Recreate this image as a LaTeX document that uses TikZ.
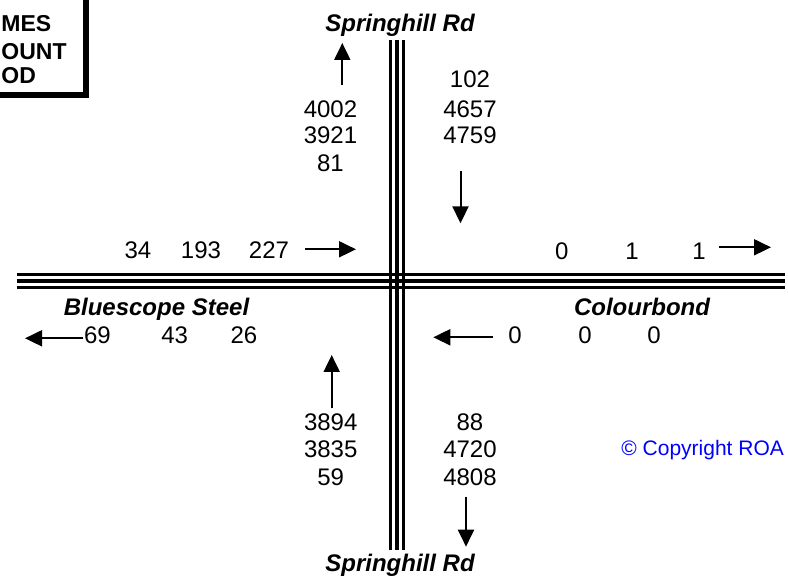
\documentclass[tikz,border=0pt]{standalone}
\usepackage{fontspec}
\setmainfont{Liberation Sans}
\usetikzlibrary{arrows.meta}
\definecolor{copyblue}{RGB}{0,0,255}

\tikzset{
  num/.style={font=\fontsize{12}{14}\selectfont, anchor=base, inner sep=0pt},
  street/.style={font=\fontsize{12}{14}\selectfont\bfseries\itshape, anchor=base, inner sep=0pt},
  boxtext/.style={font=\fontsize{11.5}{14}\selectfont\bfseries, anchor=base west, inner sep=0pt},
  flow/.style={line width=1pt, -{Triangle[length=8.5pt,width=8pt]}},
  kerb/.style={line width=1.2pt},
  median/.style={line width=2pt}
}

\begin{document}
\begin{tikzpicture}[x=0.5pt, y=-0.5pt]
\useasboundingbox (0,0) rectangle (788,581);

%---------------------------------------
% Road centre lines
%---------------------------------------
\def\Wx{17}   \def\Ex{785}
\def\Ny{40}   \def\Sy{550}

% east-west road
\draw[kerb]   (\Wx,274.5) -- (\Ex,274.5);
\draw[median] (\Wx,281)   -- (\Ex,281);
\draw[kerb]   (\Wx,287.5) -- (\Ex,287.5);

% north-south road
\draw[kerb]   (390.3,\Ny) -- (390.3,\Sy);
\draw[median] (397,\Ny)   -- (397,\Sy);
\draw[kerb]   (403.5,\Ny) -- (403.5,\Sy);

%---------------------------------------
% Title box (top left)
%---------------------------------------
\draw[line width=3pt] (-20,-20) rectangle (86.3,95.5);
\node[boxtext] (ttl1) at (1,31.5) {MES};
\node[boxtext] (ttl2) at (1,59.5) {OUNT};
\node[boxtext] (ttl3) at (1,84)   {OD};

%---------------------------------------
% Street names
%---------------------------------------
\node[street] (springN) at (400,32)    {Springhill Rd};
\node[street] (springS) at (400,572)   {Springhill Rd};
\node[street] (blue)    at (156.5,316) {Bluescope Steel};
\node[street] (colour)  at (642,316)   {Colourbond};

%---------------------------------------
% North approach
%---------------------------------------
\draw[flow] (342.3,85) -- (342.3,43);
\node[num] (nOut1) at (330.5,117.3) {4002};
\node[num] (nOut2) at (330.5,143.3) {3921};
\node[num] (nOut3) at (330.5,171.7) {81};

\node[num] (nIn1) at (470,87.3)  {102};
\node[num] (nIn2) at (470,117.3) {4657};
\node[num] (nIn3) at (470,143.3) {4759};
\draw[flow] (460.5,171) -- (460.5,223.3);

%---------------------------------------
% West approach
%---------------------------------------
\node[num] (wIn1) at (138,259) {34};
\node[num] (wIn2) at (201,259) {193};
\node[num] (wIn3) at (269,259) {227};
\draw[flow] (305,249.3) -- (356,249.3);

\draw[flow] (83.3,338.3) -- (25,338.3);
\node[num] (wOut1) at (97.5,343.5) {69};
\node[num] (wOut2) at (174.7,343.5) {43};
\node[num] (wOut3) at (244,343.5) {26};

%---------------------------------------
% East approach
%---------------------------------------
\node[num] (eOut1) at (561.7,259.5) {0};
\node[num] (eOut2) at (632,259.5) {1};
\node[num] (eOut3) at (699,259.5) {1};
\draw[flow] (719,247.3) -- (771,247.3);

\draw[flow] (492.7,337.3) -- (433.3,337.3);
\node[num] (eIn1) at (515,344) {0};
\node[num] (eIn2) at (585,344) {0};
\node[num] (eIn3) at (654,344) {0};

%---------------------------------------
% South approach
%---------------------------------------
\draw[flow] (331.7,408.3) -- (331.7,355);
\node[num] (sIn1) at (330.7,430.7) {3894};
\node[num] (sIn2) at (330.7,457.3) {3835};
\node[num] (sIn3) at (330.7,485.3) {59};

\node[num] (sOut1) at (470,430.7) {88};
\node[num] (sOut2) at (470,457.3) {4720};
\node[num] (sOut3) at (470,485.3) {4808};
\draw[flow] (466,496.7) -- (466,546.7);

% copyright
\node[font=\fontsize{10.5}{12}\selectfont, text=copyblue, anchor=base west, inner sep=0pt]
  (copy) at (621,456) {\textcopyright\ Copyright ROA};

\end{tikzpicture}
\end{document}
